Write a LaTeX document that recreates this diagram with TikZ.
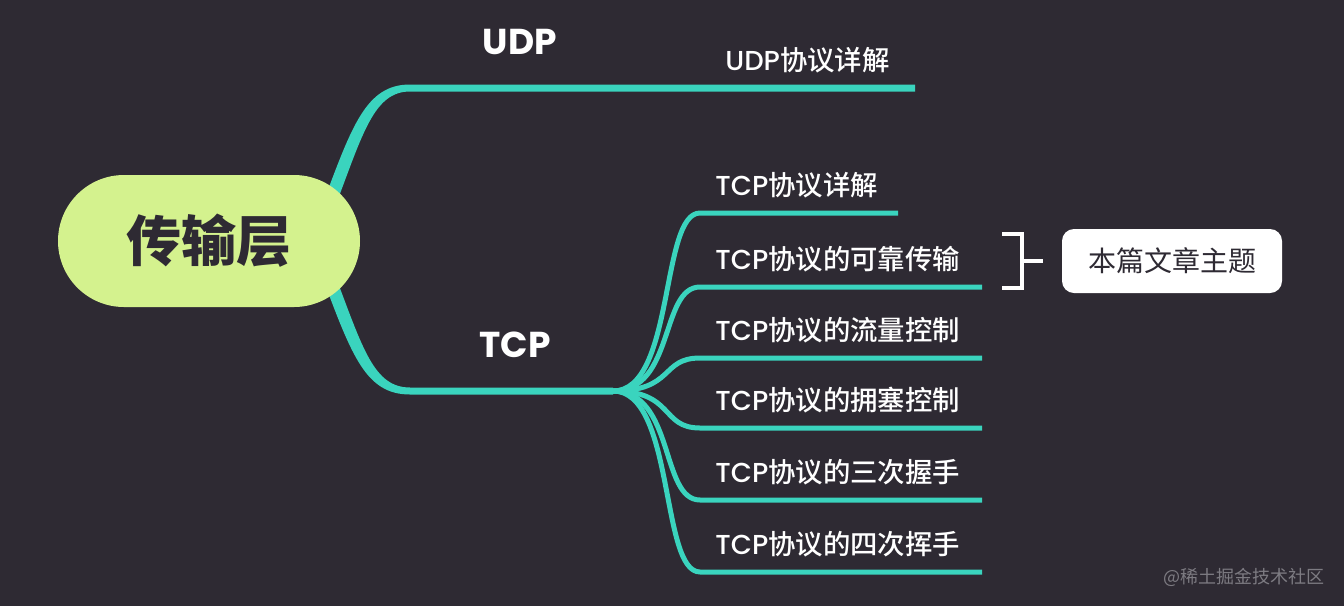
\documentclass[tikz,border=0pt]{standalone}
\usepackage{fontspec}
\usepackage{tikz}
\usetikzlibrary{positioning, backgrounds}

\newfontfamily\latinfont{Poppins}
\newfontfamily\latinmedium{Poppins}[UprightFont=* Medium]
\newfontfamily\cjkfont{Noto Sans CJK SC}
\newfontfamily\cjkmedium{Noto Sans CJK SC Medium}

\definecolor{bgdark}{RGB}{46,42,51}
\definecolor{branchteal}{RGB}{58,212,190}
\definecolor{rootgreen}{RGB}{212,242,142}
\definecolor{inkdark}{RGB}{46,42,51}
\definecolor{creditgray}{RGB}{125,123,130}

\newcommand{\tcpleaf}[1]{{\latinmedium TCP}{\cjkmedium #1}}

\begin{document}
\begin{tikzpicture}[x=0.5pt, y=-0.5pt,
  root node/.style={fill=rootgreen, rounded corners=33pt, minimum width=151pt,
    minimum height=66pt, text=inkdark, font=\cjkfont\bfseries\fontsize{27.5}{30}\selectfont},
  branch label/.style={text=white, font=\latinfont\bfseries\fontsize{18}{20}\selectfont},
  leaf label/.style={text=white, anchor=west, inner sep=0pt, font=\fontsize{13.7}{16}\selectfont},
  leaf branch/.style={draw=branchteal, line width=2.5pt},
  bracket/.style={draw=white, line width=2pt},
  topic box/.style={fill=white, rounded corners=6pt, minimum width=110pt,
    minimum height=32pt, text=inkdark, font=\cjkfont\fontsize{14}{16}\selectfont},
  credit/.style={text=creditgray, font=\cjkfont\fontsize{9}{11}\selectfont}]

\useasboundingbox (0,0) rectangle (1344,606);
\fill[bgdark] (0,0) rectangle (1344,606);

% main branches, thick at the root
\fill[branchteal] (323,203) .. controls (352,126) and (366,84.5) .. (410,84.5)
  -- (915,84.5) -- (915,91.5) -- (410,91.5)
  .. controls (374,91.5) and (363,133) .. (335,207) -- cycle;
\fill[branchteal] (323,279) .. controls (352,356) and (366,394.5) .. (410,394.5)
  -- (613,394.5) -- (613,387.5) -- (410,387.5)
  .. controls (374,387.5) and (363,349) .. (335,275) -- cycle;

\node[root node] (root) at (209,241) {传输层};
\node[branch label] (udp) at (520,42) {UDP};
\node[branch label] (tcp) at (515,345) {TCP};
\node[leaf label] (udpleaf) at (725,60) {{\latinmedium UDP}{\cjkmedium 协议详解}};

\coordinate (fan) at (613,391);
\foreach \i/\y/\xend/\txt in {1/213/898/协议详解, 2/287/982/协议的可靠传输,
    3/358/982/协议的流量控制, 4/428/982/协议的拥塞控制,
    5/500/982/协议的三次握手, 6/572/982/协议的四次挥手} {
  \node[leaf label] (leaf\i) at (715,\y-28) {\tcpleaf{\txt}};
  \coordinate (leafstart\i) at (700,\y);
  \coordinate (leafend\i) at (\xend,\y);
  \draw[leaf branch] (fan) .. controls +(62,0) and +(-40,0) .. (leafstart\i) -- (leafend\i);
}

% bracket to the topic box
\node[topic box] (topic) at (1172,261) {本篇文章主题};
\coordinate (bracetop) at (1002,234);
\coordinate (bracebottom) at (1002,288);
\coordinate (bracemid) at (1022,261);
\draw[bracket] (bracetop) -| (bracemid) |- (bracebottom);
\draw[bracket, shorten >=9.5pt] (bracemid) -- (topic.west);

\node[credit] (watermark) at (1244,577) {@稀土掘金技术社区};
\end{tikzpicture}
\end{document}
